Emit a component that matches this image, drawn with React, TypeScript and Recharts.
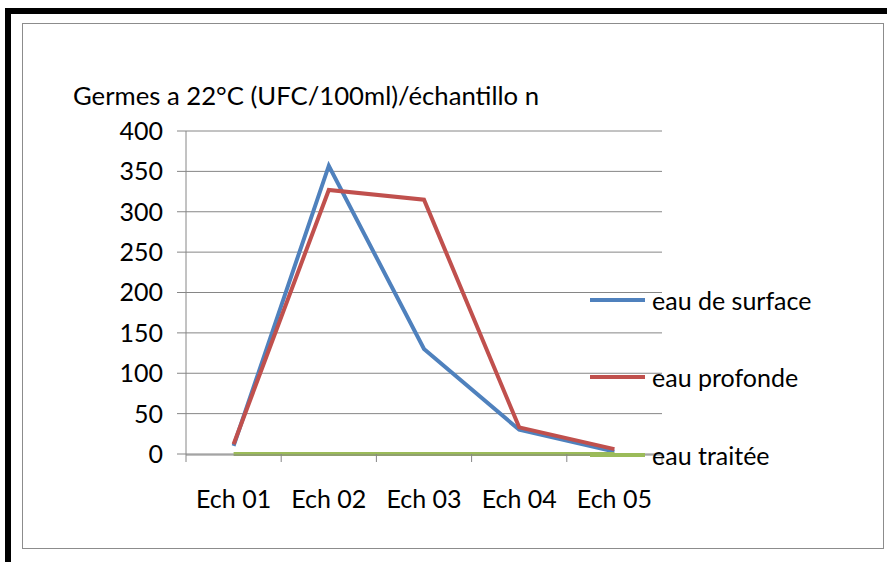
import { LineChart, Line, XAxis, YAxis, CartesianGrid } from "recharts";

const categories = ["Ech 01", "Ech 02", "Ech 03", "Ech 04", "Ech 05"];
const eauSurface = [10, 357, 130, 30, 3];
const eauProfonde = [12, 327, 315, 33, 6];
const eauTraitee = [0, 0, 0, 0, 0];
const yTicks = [0, 50, 100, 150, 200, 250, 300, 350, 400];
const edgeTicks = [0, 1, 2, 3, 4, 5];

const SERIES = [
    { key: "surface", name: "eau de surface", color: "#4F81BD" },
    { key: "profonde", name: "eau profonde", color: "#C0504D" },
    { key: "traitee", name: "eau traitée", color: "#9BBB59" },
];

const FONT = "Lato, 'Open Sans', sans-serif";
const GRID = "#868686";
const PLOT_W = 476;
const EDGE_PAD = PLOT_W / categories.length / 2;

const data = categories.map((name, i) => ({
    name,
    slot: i + 0.5,
    surface: eauSurface[i],
    profonde: eauProfonde[i],
    traitee: eauTraitee[i],
}));

// boundary axis only shows tick marks, no labels
const NoLabel = () => <g />;

function LegendBox() {
    return (
        <div style={{ position: "absolute", left: 590, top: 261, fontFamily: FONT, fontSize: 25, color: "#000" }}>
            {SERIES.map((s) => (
                <div key={s.key} style={{ display: "flex", alignItems: "center", height: 77.5, whiteSpace: "pre" }}>
                    <span style={{ width: 55, height: 4, background: s.color, marginRight: 7 }} />
                    <span>{s.name}</span>
                </div>
            ))}
        </div>
    );
}

export default function App() {
    return (
        <div style={{ position: "absolute", left: 0, top: 0, width: 887, height: 562, background: "#fff" }}>
            {/* outer frame */}
            <div style={{ position: "absolute", left: 5, top: 8, width: 882, height: 6, background: "#000" }} />
            <div style={{ position: "absolute", left: 5, top: 8, width: 6, height: 554, background: "#000" }} />
            <div
                style={{
                    position: "absolute",
                    left: 22,
                    top: 23,
                    width: 860,
                    height: 524,
                    border: "1px solid #8c8c8c",
                }}
            />
            <div
                style={{
                    position: "absolute",
                    left: 73,
                    top: 80,
                    fontFamily: FONT,
                    fontSize: 25.7,
                    lineHeight: "30px",
                    color: "#000",
                    whiteSpace: "pre",
                }}
            >
                Germes a 22°C (UFC/100ml)/échantillo n
            </div>
            <div style={{ position: "absolute", left: 0, top: 0 }}>
                <LineChart
                    width={887}
                    height={562}
                    data={data}
                    margin={{ top: 131, right: 225, bottom: 77, left: 126 }}
                >
                    <CartesianGrid horizontal vertical={false} stroke={GRID} strokeWidth={1} xAxisId="b-cat" />
                    <XAxis
                        xAxisId="a-edges"
                        dataKey="slot"
                        type="number"
                        domain={[0, 5]}
                        allowDataOverflow
                        ticks={edgeTicks}
                        tick={NoLabel}
                        axisLine={false}
                        tickLine={{ stroke: GRID }}
                        tickSize={8}
                        height={1}
                    />
                    <XAxis
                        xAxisId="b-cat"
                        dataKey="name"
                        axisLine={{ stroke: GRID }}
                        tickLine={false}
                        tickSize={0}
                        tickMargin={35}
                        height={30}
                        interval={0}
                        padding={{ left: EDGE_PAD, right: EDGE_PAD }}
                        tick={{ fontFamily: FONT, fontSize: 25, fill: "#000" }}
                    />
                    <YAxis
                        domain={[0, 400]}
                        ticks={yTicks}
                        interval={0}
                        width={60}
                        axisLine={{ stroke: GRID }}
                        tickLine={{ stroke: GRID }}
                        tickSize={9}
                        tickMargin={14}
                        tick={{ fontFamily: FONT, fontSize: 25, fill: "#000" }}
                    />
                    {SERIES.map((s) => (
                        <Line
                            key={s.key}
                            xAxisId="b-cat"
                            dataKey={s.key}
                            name={s.name}
                            stroke={s.color}
                            strokeWidth={4}
                            dot={false}
                            activeDot={false}
                            isAnimationActive={false}
                        />
                    ))}
                </LineChart>
            </div>
            <LegendBox />
        </div>
    );
}
